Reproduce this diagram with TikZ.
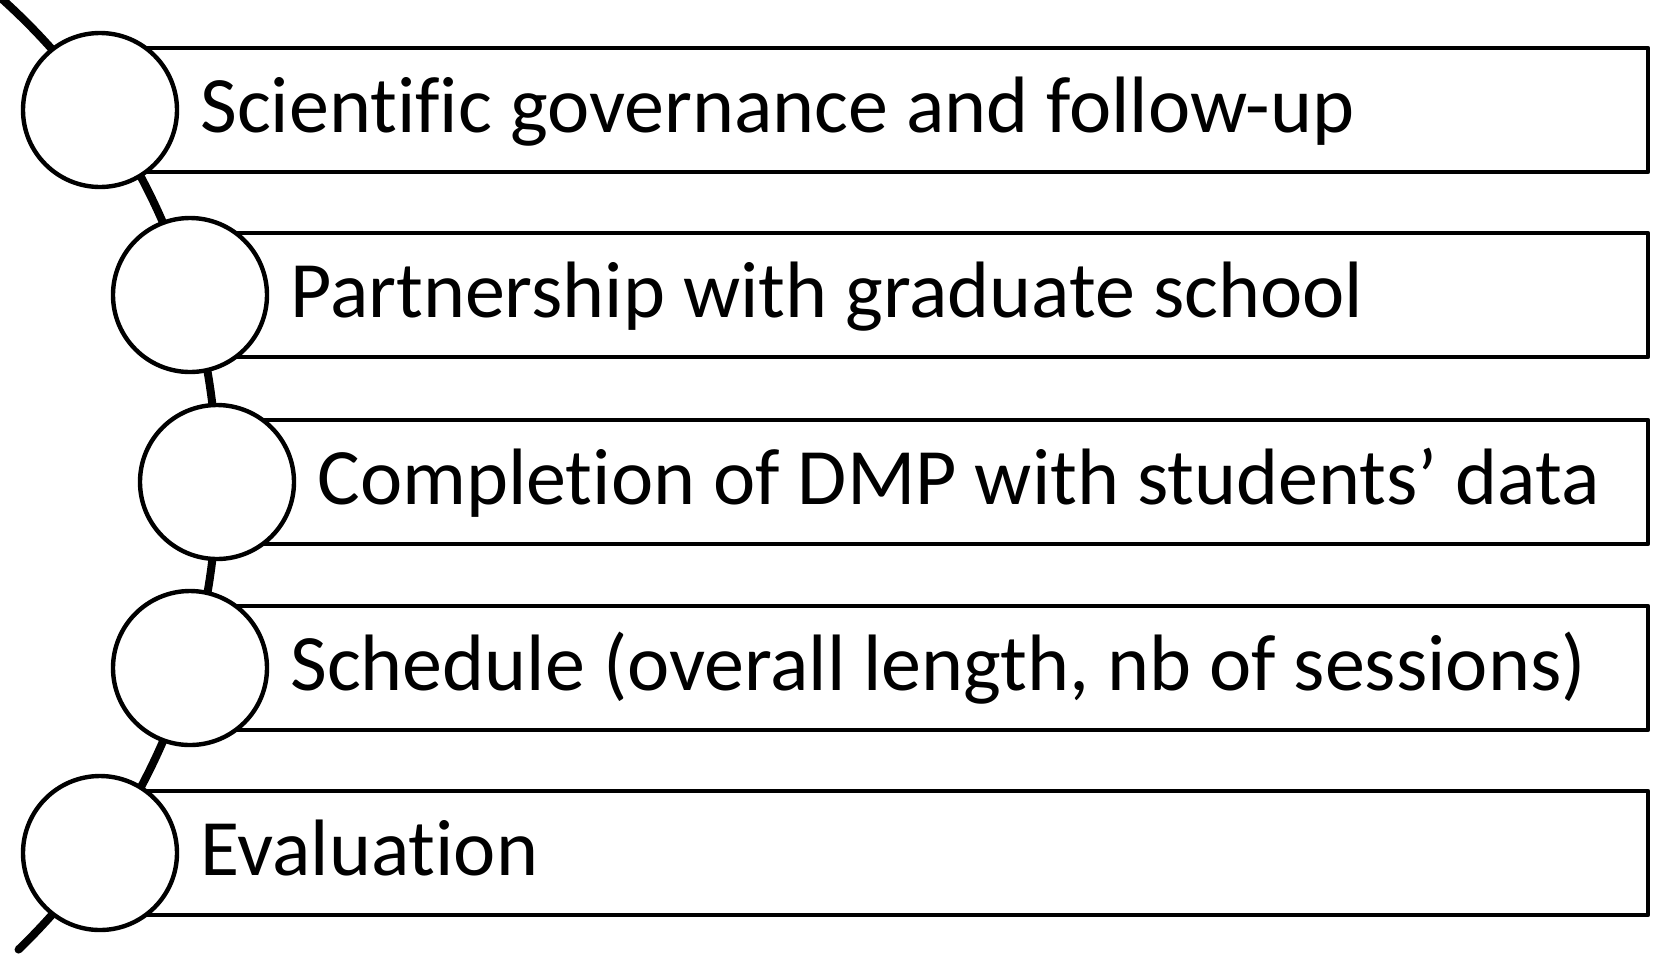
\documentclass[tikz,border=0pt]{standalone}
\usepackage{fontspec}
\setmainfont{Carlito}[Ligatures=NoCommon]
\begin{document}
\begin{tikzpicture}[x=0.5pt,y=-0.5pt,
  bar/.style={draw=black,line width=2.2pt,fill=white,line join=round},
  dot/.style={circle,draw=black,line width=2.2pt,fill=white,minimum size=77pt,inner sep=0pt},
  lbl/.style={anchor=base west,font=\fontsize{40}{46}\selectfont,inner sep=0pt}]
\useasboundingbox (0,0) rectangle (1658,954);
\begin{scope}
\clip (0,0) rectangle (1658,954);
\draw[line width=4pt,line cap=round] (-433,482) ++(46:650) arc[start angle=46,end angle=-48,radius=650];
\end{scope}
\foreach \n/\cx/\cy/\t in {a/100/110/Scientific governance and follow-up,
  b/190/295/Partnership with graduate school,
  c/217/482/Completion of DMP with students’ data,
  d/190/668/{Schedule (overall length, nb of sessions)},
  e/100/853/Evaluation}{
  \draw[bar] (\cx,\cy-62) rectangle (1648,\cy+62);
  \node[dot] (\n) at (\cx,\cy) {};
  \node[lbl] (t\n) at (\cx+100,\cy+22) {\t};
}
\end{tikzpicture}
\end{document}
